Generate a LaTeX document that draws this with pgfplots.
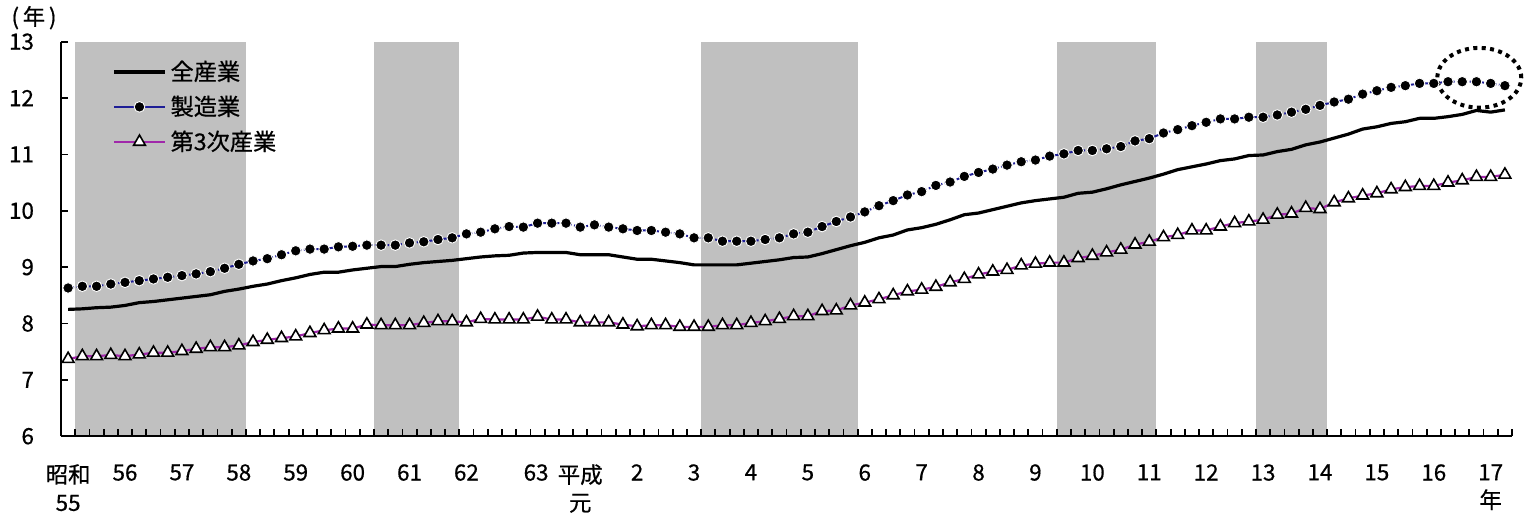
\documentclass[border=0pt]{standalone}
\usepackage{pgfplots}
\pgfplotsset{compat=1.18}
\usepackage{fontspec}
\setmainfont{Noto Sans CJK JP}[FakeBold=0.6]
\definecolor{band}{RGB}{192,192,192}
\definecolor{mfg}{RGB}{30,30,150}
\definecolor{ter}{RGB}{160,40,170}

\pgfplotstableread{
i all mfg ter
0 8.25 8.63 7.37
1 8.26 8.66 7.42
2 8.28 8.66 7.42
3 8.29 8.70 7.44
4 8.32 8.73 7.42
5 8.37 8.76 7.45
6 8.39 8.79 7.48
7 8.42 8.82 7.48
8 8.45 8.85 7.51
9 8.48 8.88 7.55
10 8.51 8.92 7.58
11 8.57 8.98 7.58
12 8.61 9.05 7.61
13 8.66 9.11 7.67
14 8.70 9.15 7.71
15 8.76 9.22 7.74
16 8.81 9.29 7.77
17 8.87 9.32 7.83
18 8.91 9.32 7.88
19 8.91 9.36 7.91
20 8.95 9.37 7.91
21 8.98 9.39 7.98
22 9.01 9.39 7.97
23 9.01 9.39 7.97
24 9.05 9.43 7.97
25 9.08 9.45 8.01
26 9.10 9.49 8.04
27 9.12 9.52 8.04
28 9.15 9.59 8.02
29 9.18 9.62 8.08
30 9.20 9.68 8.07
31 9.21 9.72 8.07
32 9.25 9.71 8.07
33 9.26 9.78 8.12
34 9.26 9.78 8.07
35 9.26 9.78 8.07
36 9.22 9.71 8.02
37 9.22 9.75 8.02
38 9.22 9.71 8.02
39 9.18 9.68 7.98
40 9.14 9.65 7.95
41 9.14 9.65 7.97
42 9.11 9.62 7.97
43 9.08 9.59 7.94
44 9.04 9.52 7.94
45 9.04 9.52 7.94
46 9.04 9.46 7.97
47 9.04 9.46 7.97
48 9.07 9.46 8.01
49 9.10 9.49 8.04
50 9.13 9.52 8.08
51 9.17 9.59 8.13
52 9.18 9.62 8.13
53 9.24 9.72 8.22
54 9.31 9.81 8.23
55 9.38 9.89 8.32
56 9.44 9.98 8.37
57 9.52 10.09 8.43
58 9.57 10.18 8.50
59 9.66 10.28 8.57
60 9.70 10.34 8.60
61 9.76 10.45 8.65
62 9.84 10.51 8.73
63 9.93 10.61 8.79
64 9.96 10.68 8.87
65 10.02 10.74 8.92
66 10.08 10.81 8.95
67 10.14 10.87 9.03
68 10.18 10.90 9.06
69 10.21 10.97 9.08
70 10.24 11.01 9.08
71 10.31 11.07 9.16
72 10.33 11.07 9.20
73 10.39 11.10 9.26
74 10.46 11.14 9.31
75 10.52 11.24 9.40
76 10.58 11.28 9.45
77 10.65 11.38 9.53
78 10.73 11.44 9.57
79 10.78 11.51 9.65
80 10.83 11.57 9.65
81 10.89 11.63 9.72
82 10.92 11.63 9.78
83 10.98 11.66 9.81
84 10.99 11.66 9.84
85 11.05 11.70 9.93
86 11.09 11.75 9.95
87 11.17 11.80 10.05
88 11.22 11.87 10.03
89 11.29 11.93 10.15
90 11.36 11.98 10.22
91 11.45 12.07 10.27
92 11.49 12.13 10.31
93 11.55 12.19 10.38
94 11.58 12.22 10.42
95 11.64 12.26 10.44
96 11.64 12.26 10.44
97 11.67 12.29 10.50
98 11.71 12.29 10.54
99 11.78 12.29 10.60
100 11.75 12.26 10.60
101 11.79 12.22 10.64
}\datatable

\begin{document}
\begin{tikzpicture}
\useasboundingbox (-30.5pt,-38.75pt) rectangle (731.5pt,218.1pt);
\begin{axis}[
  scale only axis, width=725.5pt, height=197.25pt,
  xmin=-0.5, xmax=101.5, ymin=6, ymax=13,
  clip=false, axis on top,
  axis x line=bottom, axis y line=left,
  axis line style={-, line width=1pt},
  tick align=inside,
  ytick={6,7,...,13},
  major tick length=3.5pt, minor tick length=3.5pt,
  tick style={black, line width=0.9pt},
  xtick={0,4,8,12,16,20,24,28,32.9,36,40,44,48,52,56,60,64,68,72,76,80,84,88,92,96,100},
  xticklabels={{昭和\\55},56,57,58,59,60,61,62,63,{平成\\元},2,3,4,5,6,7,8,9,10,11,12,13,14,15,16,{17\\年}},
  major x tick style={draw=none},
  minor xtick={-0.5,0.5,...,101.5},
  ticklabel style={font=\fontsize{11.2}{14}\selectfont},
  xticklabel style={align=center, anchor=north, yshift=-10.5pt},
  yticklabel style={anchor=east, xshift=-10pt},
  /pgf/number format/assume math mode=true,
  legend style={draw=none, fill=none, at={(rel axis cs:0,1)}, anchor=north west,
    xshift=25.5pt, yshift=-7.3pt, inner sep=0pt, row sep=2.2pt,
    font=\fontsize{11.6}{13}\selectfont,
    /tikz/every even column/.append style={column sep=3pt}},
  legend cell align=left,
  legend image code/.code={\draw[#1, solid, mark repeat=2, mark phase=2] plot coordinates {(0pt,0pt) (12.75pt,0pt) (25.5pt,0pt)};},
]
\fill[band] (axis cs:0.5,6) rectangle (axis cs:12.5,13);
\fill[band] (axis cs:21.5,6) rectangle (axis cs:27.5,13);
\fill[band] (axis cs:44.5,6) rectangle (axis cs:55.5,13);
\fill[band] (axis cs:69.5,6) rectangle (axis cs:76.5,13);
\fill[band] (axis cs:83.5,6) rectangle (axis cs:88.5,13);

\addplot[black, line width=1.6pt, line join=round, no markers] table[x=i, y=all] {\datatable};
\addlegendentry{全産業}
\addplot[mfg, line width=1pt, dash pattern=on 3pt off 1.2pt on 0.9pt off 1.2pt,
  mark=*, mark size=2.65pt, mark options={solid, fill=black, draw=white, line width=0.45pt}]
  table[x=i, y=mfg] {\datatable};
\addlegendentry{製造業}
\addplot[ter, line width=1.1pt,
  mark=triangle*, mark size=3.4pt, mark options={solid, fill=white, draw=black, line width=0.8pt}]
  table[x=i, y=ter] {\datatable};
\addlegendentry{第3次産業}

\draw[black, line width=2pt, dash pattern=on 2pt off 2.2pt] (axis cs:99.2,12.36) ellipse [x radius=2.95, y radius=0.53];
\node[font=\fontsize{11.2}{13}\selectfont] at (rel axis cs:0,1) [xshift=-13.5pt, yshift=12pt] {(\,年\,)};
\end{axis}
\end{tikzpicture}
\end{document}
